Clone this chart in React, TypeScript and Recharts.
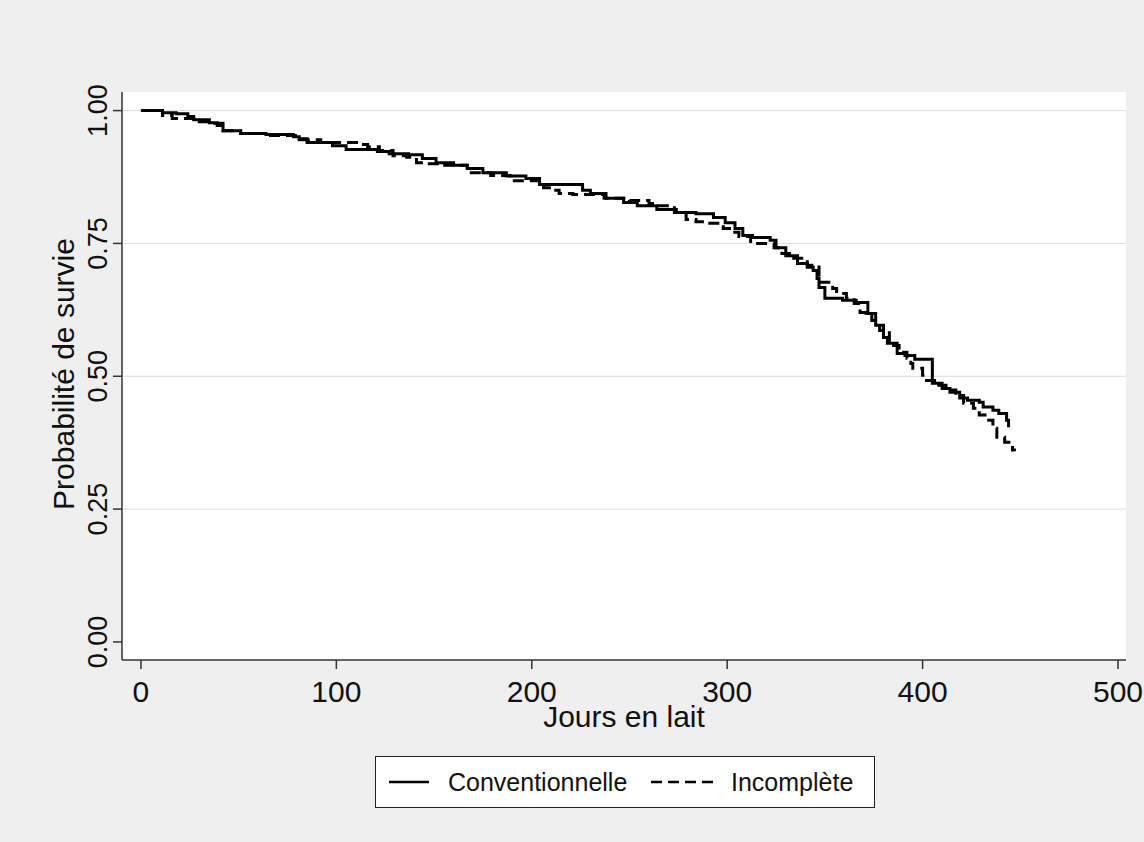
import { LineChart, Line, XAxis, YAxis, CartesianGrid, Legend } from 'recharts';

const conventionnelleJours = [
  0, 11, 18, 24, 27, 35, 39, 42, 51, 64, 78, 81, 85, 98, 105, 121, 127, 137, 144, 151,
  160, 167, 175, 187, 197, 204, 226, 230, 238, 247, 254, 264, 274, 284, 293, 299, 304, 308,
  313, 322, 325, 330, 336, 341, 344, 346, 347, 350, 359, 366, 372, 376, 380, 382, 387, 391,
  396, 405, 410, 414, 419, 423, 429, 431, 436, 439, 443, 444,
];
const conventionnelleSurvie = [
  1.0, 0.996, 0.994, 0.989, 0.983, 0.977, 0.972, 0.962, 0.957, 0.955, 0.951, 0.947, 0.94,
  0.934, 0.927, 0.923, 0.919, 0.917, 0.91, 0.902, 0.897, 0.891, 0.883, 0.877, 0.872, 0.861,
  0.85, 0.844, 0.835, 0.827, 0.821, 0.814, 0.808, 0.806, 0.799, 0.789, 0.778, 0.765, 0.761,
  0.756, 0.742, 0.727, 0.712, 0.705, 0.699, 0.684, 0.667, 0.647, 0.643, 0.639, 0.618, 0.596,
  0.573, 0.562, 0.543, 0.539, 0.532, 0.487, 0.477, 0.47, 0.459, 0.455, 0.451, 0.442, 0.436,
  0.43, 0.417, 0.404,
];

const incompleteJours = [
  0, 11, 16, 27, 35, 42, 51, 64, 81, 92, 112, 116, 122, 129, 136, 141, 146, 153, 167, 179,
  189, 206, 211, 214, 221, 237, 250, 260, 264, 273, 279, 284, 290, 298, 303, 306, 312, 324,
  328, 333, 341, 347, 354, 356, 361, 365, 368, 371, 374, 378, 383, 388, 392, 394, 395, 400,
  402, 407, 412, 417, 421, 426, 429, 433, 436, 438, 442, 446, 447,
];
const incompleteSurvie = [
  1.0, 0.991, 0.985, 0.979, 0.976, 0.962, 0.957, 0.953, 0.945, 0.94, 0.936, 0.932, 0.925,
  0.915, 0.912, 0.902, 0.9, 0.897, 0.883, 0.878, 0.868, 0.855, 0.85, 0.844, 0.842, 0.835,
  0.831, 0.825, 0.821, 0.808, 0.795, 0.791, 0.788, 0.778, 0.771, 0.763, 0.75, 0.742, 0.731,
  0.722, 0.709, 0.677, 0.665, 0.656, 0.647, 0.637, 0.62, 0.615, 0.605, 0.586, 0.558, 0.545,
  0.534, 0.524, 0.515, 0.502, 0.492, 0.483, 0.474, 0.464, 0.449, 0.44, 0.427, 0.417, 0.402,
  0.385, 0.376, 0.361, 0.359,
];

const xTicks = [0, 100, 200, 300, 400, 500];
const yTicks = [0, 0.25, 0.5, 0.75, 1];
const gridValues = [0.25, 0.5, 0.75, 1];
const seriesNames = ['Conventionnelle', 'Incomplète'];
const xTitle = 'Jours en lait';
const yTitle = 'Probabilité de survie';

const FONT = '"Liberation Sans", Arial, sans-serif';

const conventionnelle = conventionnelleJours.map((jours, i) => ({ jours, survie: conventionnelleSurvie[i] }));
const incomplete = incompleteJours.map((jours, i) => ({ jours, survie: incompleteSurvie[i] }));

const XTick = ({ x, payload }: any) => (
  <text x={x} y={702} textAnchor="middle" fontSize={30} fontFamily={FONT} fill="#111">
    {payload.value}
  </text>
);

const YTick = ({ y, payload }: any) => (
  <text
    x={107}
    y={y}
    transform={`rotate(-90, 107, ${y})`}
    textAnchor="middle"
    fontSize={27}
    fontFamily={FONT}
    fill="#111"
  >
    {Number(payload.value).toFixed(2)}
  </text>
);

const LegendBox = ({ payload }: any) => {
  const samples = [13, 275];
  const labels = [72, 355];
  const widths = [40, 63];
  return (
    <div
      style={{
        width: 500,
        height: 52,
        boxSizing: 'border-box',
        border: '1.5px solid #222',
        background: '#fff',
      }}
    >
      <svg width={497} height={49}>
        {(payload || []).map((entry: any, i: number) => (
          <g key={entry.value}>
            <line
              x1={samples[i]}
              x2={samples[i] + widths[i]}
              y1={25}
              y2={25}
              stroke="#000"
              strokeWidth={2.5}
              strokeDasharray={entry.payload?.strokeDasharray}
            />
            <text x={labels[i]} y={34} fontSize={25} fontFamily={FONT} fill="#111">
              {entry.value}
            </text>
          </g>
        ))}
      </svg>
    </div>
  );
};

export default function App() {
  return (
    <div style={{ position: 'absolute', left: 0, top: 0, width: 1144, height: 842, background: '#efefef' }}>
      <LineChart width={1144} height={842} margin={{ top: 92, right: 18, bottom: 132, left: 62 }}>
        <CartesianGrid vertical={false} horizontalValues={gridValues} stroke="#dcdcdc" fill="#ffffff" />
        <XAxis
          type="number"
          dataKey="jours"
          domain={[-9.7, 504.1]}
          ticks={xTicks}
          allowDataOverflow
          height={50}
          tickSize={9}
          axisLine={{ stroke: '#333', strokeWidth: 1.5 }}
          tickLine={{ stroke: '#333', strokeWidth: 1.5 }}
          tick={<XTick />}
          label={{
            value: xTitle,
            content: () => (
              <text x={624} y={727} textAnchor="middle" fontSize={30} fontFamily={FONT} fill="#111">
                {xTitle}
              </text>
            ),
          }}
        />
        <YAxis
          type="number"
          domain={[-0.034, 1.035]}
          ticks={yTicks}
          allowDataOverflow
          width={60}
          tickSize={9}
          axisLine={{ stroke: '#333', strokeWidth: 1.5 }}
          tickLine={{ stroke: '#333', strokeWidth: 1.5 }}
          tick={<YTick />}
          label={{
            value: yTitle,
            content: () => (
              <text
                x={74}
                y={374}
                transform="rotate(-90, 74, 374)"
                textAnchor="middle"
                fontSize={30}
                fontFamily={FONT}
                fill="#111"
              >
                {yTitle}
              </text>
            ),
          }}
        />
        <Legend
          layout="vertical"
          align="center"
          verticalAlign="middle"
          wrapperStyle={{ left: 375, top: 756, width: 500, height: 52 }}
          content={<LegendBox />}
        />
        <Line
          data={conventionnelle}
          dataKey="survie"
          name={seriesNames[0]}
          type="stepAfter"
          stroke="#000"
          strokeWidth={3}
          dot={false}
          isAnimationActive={false}
        />
        <Line
          data={incomplete}
          dataKey="survie"
          name={seriesNames[1]}
          type="stepAfter"
          stroke="#000"
          strokeWidth={3}
          strokeDasharray="11 6"
          dot={false}
          isAnimationActive={false}
        />
      </LineChart>
    </div>
  );
}
